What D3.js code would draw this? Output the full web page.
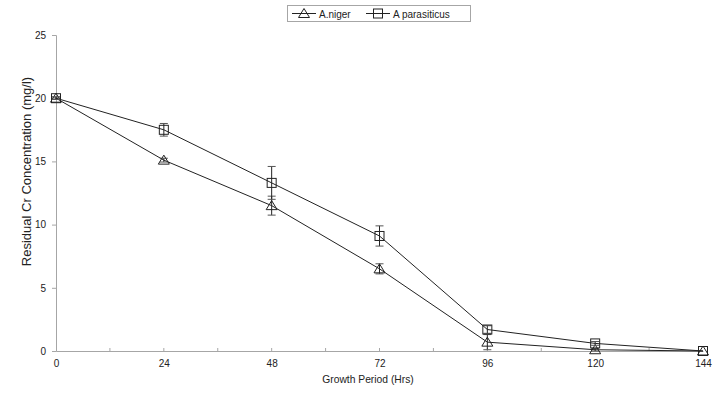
<!DOCTYPE html>
<html><head><meta charset="utf-8">
<script src="https://cdn.jsdelivr.net/npm/d3@7"></script>
<style>body{margin:0;background:#fff;}svg{display:block;font-family:"Liberation Sans",Arial,sans-serif;}</style>
</head><body><svg id="c" width="726" height="398"></svg>
<script>
const hours = [0, 24, 48, 72, 96, 120, 144];
const nigerValues = [20, 15.1, 11.5, 6.5, 0.7, 0.1, 0];
const nigerErrors = [0.1, 0.15, 0.75, 0.4, 0.6, 0.1, 0];
const parasiticusValues = [20, 17.5, 13.3, 9.1, 1.7, 0.6, 0];
const parasiticusErrors = [0.1, 0.5, 1.3, 0.8, 0.3, 0.15, 0];
const yTicks = [0, 5, 10, 15, 20, 25];
const seriesNames = ["A.niger", "A parasiticus"];

const svg = d3.select("#c");
const x = d3.scaleLinear().domain([0, 144]).range([56, 703]);
const y = d3.scaleLinear().domain([0, 25]).range([351, 35]);
const axisColor = "#a6a6a6";
const ink = "#222";

// y axis
const ya = svg.append("g").attr("transform", "translate(56,0)")
  .call(d3.axisLeft(y).tickValues(yTicks).tickSize(4).tickPadding(6));
ya.select(".domain").attr("stroke", axisColor);
ya.selectAll(".tick line").attr("stroke", axisColor);
ya.selectAll(".tick text").attr("fill", "#222").attr("font-size", 10).attr("font-family", "Liberation Sans, Arial, sans-serif");

// x axis
const xa = svg.append("g").attr("transform", "translate(0,351)")
  .call(d3.axisBottom(x).tickValues(hours).tickSize(0).tickPadding(9));
xa.select(".domain").attr("stroke", axisColor);
xa.selectAll(".tick text").attr("fill", "#222").attr("font-size", 10).attr("font-family", "Liberation Sans, Arial, sans-serif");
const minor = d3.range(12, 144, 12);
svg.append("g").selectAll("line").data(minor).join("line")
  .attr("x1", d => x(d)).attr("x2", d => x(d)).attr("y1", 348).attr("y2", 352)
  .attr("stroke", axisColor);

// titles
svg.append("text").attr("x", 368).attr("y", 383).attr("text-anchor", "middle")
  .attr("font-size", 10.3).attr("fill", "#222").text("Growth Period (Hrs)");
svg.append("text").attr("transform", "translate(31,171.5) rotate(-90)").attr("text-anchor", "middle")
  .attr("font-size", 13).attr("fill", "#222").text("Residual Cr Concentration (mg/l)");

const line = d3.line().x((d, i) => x(hours[i])).y(d => y(d));
const series = [
  {vals: nigerValues, errs: nigerErrors, shape: "tri"},
  {vals: parasiticusValues, errs: parasiticusErrors, shape: "sq"}
];

function marker(g, shape, cx, cy) {
  if (shape === "sq") {
    g.append("rect").attr("x", cx - 4.5).attr("y", cy - 4.5).attr("width", 9).attr("height", 9)
      .attr("fill", "none").attr("stroke", ink).attr("stroke-width", 1);
  } else {
    g.append("path").attr("d", `M${cx},${cy - 5}L${cx + 5.5},${cy + 4}L${cx - 5.5},${cy + 4}Z`)
      .attr("fill", "none").attr("stroke", ink).attr("stroke-width", 1);
  }
}

series.forEach(s => {
  svg.append("path").attr("d", line(s.vals)).attr("fill", "none").attr("stroke", ink).attr("stroke-width", 1);
  const g = svg.append("g");
  s.vals.forEach((v, i) => {
    const e = s.errs[i];
    if (e > 0) {
      const cx = x(hours[i]);
      const y1 = y(v + e), y2 = y(Math.max(0, v - e));
      g.append("line").attr("x1", cx).attr("x2", cx).attr("y1", y1).attr("y2", y2).attr("stroke", ink);
      [y1, y2].forEach(yy => g.append("line").attr("x1", cx - 4).attr("x2", cx + 4).attr("y1", yy).attr("y2", yy).attr("stroke", "#555"));
    }
    marker(g, s.shape, x(hours[i]), y(v));
  });
});

// legend
const lg = svg.append("g");
lg.append("rect").attr("x", 287.5).attr("y", 5.5).attr("width", 183).attr("height", 16)
  .attr("fill", "#fff").attr("stroke", "#a6a6a6");
const legendItems = [{x0: 292, tx: 319, shape: "tri"}, {x0: 366, tx: 393, shape: "sq"}];
legendItems.forEach((it, i) => {
  lg.append("line").attr("x1", it.x0).attr("x2", it.x0 + 24).attr("y1", 13.5).attr("y2", 13.5).attr("stroke", ink);
  marker(lg, it.shape, it.x0 + 12, 13.5);
  lg.append("text").attr("x", it.tx).attr("y", 17.5).attr("font-size", 10).attr("fill", "#222").text(seriesNames[i]);
});
</script></body></html>
